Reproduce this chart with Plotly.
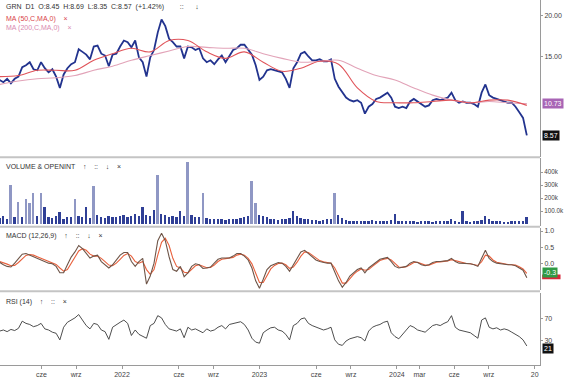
import numpy as np
import pandas as pd
import plotly.graph_objects as go
from plotly.subplots import make_subplots

# ---------------- data (10-day sampling) ----------------
start_date = "2021-02-10"
n_points = 141
dates = pd.date_range(start_date, periods=n_points, freq="10D")
ma_dates = dates[::5]

price = [
    12.7, 12.5, 12.8, 12.4, 12.8, 13.0, 13.9, 14.1, 14.4, 13.7,
    13.6, 14.4, 13.8, 13.4, 13.7, 13.0, 12.0, 13.2, 13.8, 14.2,
    14.4, 15.8, 15.5, 15.2, 14.7, 16.1, 16.2, 15.3, 15.1, 14.0,
    15.2, 15.3, 16.1, 16.8, 16.6, 16.0, 16.8, 14.9, 14.4, 13.0,
    14.9, 15.7, 17.8, 19.5, 18.6, 17.0, 16.6, 16.1, 16.1, 14.8,
    16.1, 16.0, 15.7, 15.9, 14.8, 14.4, 14.6, 14.2, 14.7, 15.1,
    14.4, 15.0, 15.7, 15.9, 16.3, 16.3, 15.7, 15.2, 14.1, 12.7,
    13.0, 13.6, 13.7, 13.6, 13.5, 13.4, 12.8, 12.0, 13.8, 14.4,
    15.3, 15.5, 15.0, 14.6, 14.6, 14.7, 14.5, 14.5, 14.7, 12.8,
    12.1, 11.6, 11.2, 11.0, 10.9, 11.0, 10.8, 10.0, 10.5, 10.7,
    11.1, 11.2, 11.4, 11.6, 11.2, 10.5, 10.4, 10.5, 10.4, 10.9,
    11.1, 10.9, 10.7, 10.5, 10.6, 11.0, 11.1, 11.0, 11.1, 11.2,
    11.6, 11.0, 10.8, 10.9, 10.8, 10.8, 10.7, 10.5, 11.6, 12.3,
    11.4, 11.2, 11.1, 11.0, 10.9, 10.8, 10.8, 10.5, 10.1, 9.7, 8.57,
]

ma50 = [
    13.0, 13.1, 13.6, 13.6, 13.6, 14.6, 15.3, 15.9, 15.5, 16.8,
    16.8, 15.5, 14.8, 15.5, 14.4, 13.5, 13.8, 14.5, 14.2, 12.0,
    10.9, 10.8, 10.8, 10.9, 11.0, 10.8, 11.0, 11.0, 10.6,
]

ma200 = [
    12.3, 12.6, 12.8, 12.9, 13.1, 13.6, 14.0, 14.6, 15.1, 15.6,
    16.1, 16.0, 15.9, 15.9, 15.3, 14.8, 14.4, 14.5, 14.6, 13.8,
    13.1, 12.7, 12.0, 11.4, 11.0, 10.8, 10.9, 10.8, 10.73,
]

volume_k = [
    45, 60, 40, 300, 55, 170, 50, 190, 165, 240,
    60, 240, 130, 50, 45, 60, 90, 40, 55, 50,
    190, 60, 55, 130, 45, 290, 70, 50, 45, 60,
    55, 50, 60, 70, 55, 60, 75, 65, 130, 70,
    60, 110, 375, 80, 70, 55, 60, 50, 100, 60,
    480, 70, 55, 50, 240, 45, 40, 35, 40, 35,
    30, 35, 40, 35, 45, 50, 60, 330, 165, 70,
    60, 50, 40, 35, 30, 35, 40, 45, 100, 60,
    45, 40, 35, 30, 30, 25, 30, 35, 40, 235,
    70, 45, 30, 25, 20, 20, 25, 20, 25, 30,
    25, 20, 20, 25, 30, 80, 25, 20, 20, 25,
    20, 15, 20, 25, 20, 15, 20, 25, 20, 20,
    35, 20, 15, 100, 20, 15, 20, 25, 30, 60,
    35, 25, 20, 20, 15, 15, 20, 25, 20, 25, 50,
]

macd = [
    0.03, -0.05, -0.10, -0.12, 0.0, 0.15, 0.28, 0.30, 0.25, 0.22,
    0.15, 0.10, 0.05, 0.0, -0.02, -0.10, -0.30, -0.30, -0.05, 0.19,
    0.35, 0.55, 0.45, 0.30, 0.16, 0.22, 0.25, 0.05, -0.05, -0.15,
    -0.05, 0.10, 0.25, 0.33, 0.33, 0.05, -0.10, 0.05, 0.15, -0.65,
    -0.40, 0.0, 0.70, 0.93, 0.70, 0.20, -0.20, -0.25, -0.10, -0.42,
    -0.30, -0.10, -0.02, -0.05, -0.16, -0.15, -0.12, 0.0, 0.12, 0.16,
    0.15, 0.16, 0.22, 0.30, 0.30, 0.22, 0.10, -0.15, -0.55, -0.78,
    -0.50, -0.20, -0.08, -0.02, 0.02, 0.0, -0.10, -0.25, -0.05, 0.15,
    0.35, 0.40, 0.30, 0.20, 0.10, 0.05, 0.02, 0.0, 0.0, -0.30,
    -0.55, -0.75, -0.60, -0.40, -0.30, -0.20, -0.15, -0.30, -0.15, -0.05,
    0.05, 0.12, 0.15, 0.18, 0.05, -0.10, -0.15, -0.12, -0.10, 0.0,
    0.05, 0.02, -0.05, -0.08, -0.05, 0.02, 0.05, 0.05, 0.06, 0.08,
    0.15, 0.05, 0.0, 0.0, -0.02, -0.02, -0.05, -0.10, 0.15, 0.40,
    0.15, 0.05, 0.0, -0.02, -0.03, -0.05, -0.05, -0.08, -0.15, -0.22, -0.45,
]

signal = [
    0.05, 0.02, -0.03, -0.08, -0.07, 0.02, 0.14, 0.24, 0.27, 0.25,
    0.20, 0.15, 0.10, 0.05, 0.01, -0.04, -0.15, -0.25, -0.20, -0.02,
    0.17, 0.38, 0.45, 0.40, 0.28, 0.22, 0.22, 0.15, 0.05, -0.06,
    -0.08, 0.0, 0.12, 0.24, 0.30, 0.22, 0.05, 0.0, 0.05, -0.20,
    -0.35, -0.20, 0.25, 0.65, 0.78, 0.55, 0.15, -0.10, -0.15, -0.28,
    -0.30, -0.20, -0.08, -0.05, -0.10, -0.14, -0.13, -0.06, 0.05, 0.12,
    0.14, 0.15, 0.18, 0.25, 0.28, 0.25, 0.15, -0.02, -0.30, -0.60,
    -0.60, -0.38, -0.18, -0.07, -0.01, 0.0, -0.05, -0.16, -0.12, 0.03,
    0.22, 0.35, 0.33, 0.25, 0.15, 0.08, 0.04, 0.01, 0.0, -0.15,
    -0.40, -0.62, -0.62, -0.48, -0.35, -0.25, -0.18, -0.22, -0.20, -0.10,
    0.0, 0.08, 0.12, 0.15, 0.10, -0.02, -0.12, -0.13, -0.11, -0.05,
    0.02, 0.03, -0.02, -0.06, -0.06, -0.01, 0.03, 0.04, 0.05, 0.07,
    0.11, 0.08, 0.03, 0.01, -0.01, -0.02, -0.04, -0.07, 0.05, 0.25,
    0.22, 0.10, 0.03, 0.0, -0.02, -0.04, -0.05, -0.06, -0.11, -0.18, -0.32,
]

rsi = [
    48, 50, 47, 51, 49, 53, 66, 62, 60, 56,
    58, 62, 52, 50, 46, 44, 32, 55, 64, 68,
    72, 78, 68, 58, 52, 62, 60, 50, 47, 33,
    55, 60, 64, 68, 62, 40, 50, 42, 38, 35,
    58, 62, 76, 72, 60, 52, 50, 48, 52, 36,
    55, 50, 52, 48, 45, 52, 48, 50, 55, 58,
    52, 60, 62, 64, 65, 60, 50, 35, 28, 26,
    45, 50, 54, 55, 50, 48, 42, 32, 58, 62,
    70, 72, 62, 58, 55, 52, 50, 52, 55, 32,
    24, 22, 30, 34, 36, 38, 36, 30, 48, 55,
    58, 60, 64, 66, 45, 38, 34, 42, 50, 58,
    55, 50, 48, 46, 52, 58, 60, 58, 62, 65,
    76, 55, 50, 48, 47, 45, 40, 35, 68, 72,
    55, 52, 54, 50, 52, 50, 46, 42, 38, 32, 21,
]

x_tick_dates = ["2021-06-01", "2021-09-01", "2022-01-01", "2022-06-01", "2022-09-01",
                "2023-01-01", "2023-06-01", "2023-09-01", "2024-01-01", "2024-03-01",
                "2024-06-01", "2024-09-01", "2025-01-01"]
x_tick_labels = ["cze", "wrz", "2022", "cze", "wrz", "2023", "cze", "wrz", "2024", "mar",
                 "cze", "wrz", "20"]

last_close = 8.57
ma_tag = 10.73
ma50_tag = 10.55
macd_tag = -0.3
signal_tag = -0.4
rsi_tag = 21

for arr in (price, volume_k, macd, signal, rsi):
    assert len(arr) == n_points, len(arr)
assert len(ma50) == len(ma_dates) and len(ma200) == len(ma_dates)

# ---------------- figure ----------------
FONT = "Liberation Sans"
AX = "#9a9a9a"

fig = make_subplots(rows=4, cols=1, shared_xaxes=True, vertical_spacing=0.004,
                    row_heights=[0.43, 0.19, 0.17, 0.2])

fig.add_trace(go.Scatter(x=dates, y=price, mode="lines",
                         line=dict(color="#22338e", width=1.8)), row=1, col=1)
fig.add_trace(go.Scatter(x=ma_dates, y=ma200, mode="lines",
                         line=dict(color="#e2a3b8", width=1.1, shape="spline")), row=1, col=1)
fig.add_trace(go.Scatter(x=ma_dates, y=ma50, mode="lines",
                         line=dict(color="#e0545a", width=1.1, shape="spline")), row=1, col=1)

vol_colors = ["#8f97c4" if v >= 150 else "#2f3f96" for v in volume_k]
fig.add_trace(go.Bar(x=dates, y=volume_k, marker=dict(color=vol_colors, line=dict(width=0)),
                     width=5 * 86400000), row=2, col=1)

fig.add_hline(y=0, row=3, col=1, line=dict(color="#b8b8b8", width=1, dash="dot"))
fig.add_trace(go.Scatter(x=dates, y=signal, mode="lines",
                         line=dict(color="#e8603c", width=1.1)), row=3, col=1)
fig.add_trace(go.Scatter(x=dates, y=macd, mode="lines",
                         line=dict(color="#6e5548", width=1.1)), row=3, col=1)

fig.add_hline(y=70, row=4, col=1, line=dict(color="#d4d4d4", width=1))
fig.add_hline(y=30, row=4, col=1, line=dict(color="#d4d4d4", width=1))
fig.add_trace(go.Scatter(x=dates, y=rsi, mode="lines",
                         line=dict(color="#3a3a3a", width=0.9)), row=4, col=1)

yax_common = dict(side="right", showline=True, linecolor=AX, linewidth=1,
                  ticks="outside", ticklen=2, tickcolor=AX, automargin=False,
                  tickfont=dict(family=FONT, size=7, color="#444"),
                  showgrid=False, zeroline=False)

fig.update_layout(
    width=564, height=379,
    margin=dict(l=0, r=24, t=0, b=14, autoexpand=False),
    paper_bgcolor="white", plot_bgcolor="white",
    showlegend=False, bargap=0,
    yaxis=dict(domain=[0.570, 1.0], type="log",
               range=[np.log10(7.35), np.log10(22.4)],
               tickvals=[15, 20], ticktext=["15.00", "20.00"], **yax_common),
    yaxis2=dict(domain=[0.381, 0.567], range=[-15, 508],
                tickvals=[100, 200, 300, 400],
                ticktext=["100.0k", "200k", "300k", "400k"], **yax_common),
    yaxis3=dict(domain=[0.205, 0.375], range=[-0.84, 1.09],
                tickvals=[0, 0.5, 1.0], ticktext=["0.0", "0.5", "1.0"], **yax_common),
    yaxis4=dict(domain=[0.0, 0.197], range=[-13.6, 117],
                tickvals=[30, 70], ticktext=["30", "70"], **yax_common),
)
fig.layout.yaxis2.tickfont.size = 6.3

x_range = ["2021-02-11", "2025-01-15"]
for i in range(1, 5):
    key = "xaxis" if i == 1 else f"xaxis{i}"
    fig.layout[key].update(range=x_range, showgrid=False, zeroline=False, showline=False)
fig.layout.xaxis4.update(type="date", tickvals=x_tick_dates, ticktext=x_tick_labels,
                         ticks="outside", ticklen=3, tickcolor=AX, showline=True,
                         showticklabels=True, automargin=False,
                         linecolor=AX, tickfont=dict(family=FONT, size=7, color="#444"))

# panel separators
for yp in [0.569, 0.379, 0.202]:
    fig.add_shape(type="line", xref="paper", yref="paper", x0=0, x1=1, y0=yp, y1=yp,
                  line=dict(color="#c4c4c4", width=2))

def header(text, ypx, color="#333"):
    fig.add_annotation(xref="paper", yref="paper", x=0.008, y=1 - ypx / 365.0,
                       xanchor="left", yanchor="middle", showarrow=False,
                       text=text, font=dict(family=FONT, size=7, color=color))

header("GRN  D1  O:8.45  H:8.69  L:8.35  C:8.57  (+1.42%)        ::      ↓", 7)
header("MA (50,C,MA,0)    ×", 19, "#d9434b")
header("MA (200,C,MA,0)    ×", 28, "#d98ab0")
header("VOLUME & OPENINT    ↑    ::    ↓    ×", 166)
header("MACD (12,26,9)    ↑    ::    ↓    ×", 236)
header("RSI (14)    ↑    ::    ×", 302)

def tag(text, yref, yval, bg, yshift=0):
    fig.add_annotation(xref="paper", yref=yref, x=1, y=yval, xanchor="left", xshift=2,
                       yshift=yshift, yanchor="middle", showarrow=False, text=text,
                       bgcolor=bg, borderpad=1,
                       font=dict(family=FONT, size=7, color="white"))

def strip(yref, y0, y1, color):
    fig.add_shape(type="rect", xref="paper", yref=yref, x0=1.004, x1=1.038, y0=y0, y1=y1,
                  line=dict(width=0), fillcolor=color, layer="above")

strip("y", np.log10(ma50_tag - 0.25), np.log10(ma50_tag + 0.05), "#d8283a")
tag(f"{ma_tag:.2f}", "y", np.log10(ma_tag), "#a865b5")
tag(f"{last_close:.2f}", "y", np.log10(last_close), "#111111")
strip("y3", signal_tag - 0.1, signal_tag + 0.05, "#d8283a")
tag(f"{macd_tag:.1f}", "y3", macd_tag, "#2f9a45")
tag(f"{rsi_tag}", "y4", rsi_tag, "#111111", yshift=-3)

fig.write_html("out.html", config={"displayModeBar": False},
               post_script="document.body.style.margin='0';")
